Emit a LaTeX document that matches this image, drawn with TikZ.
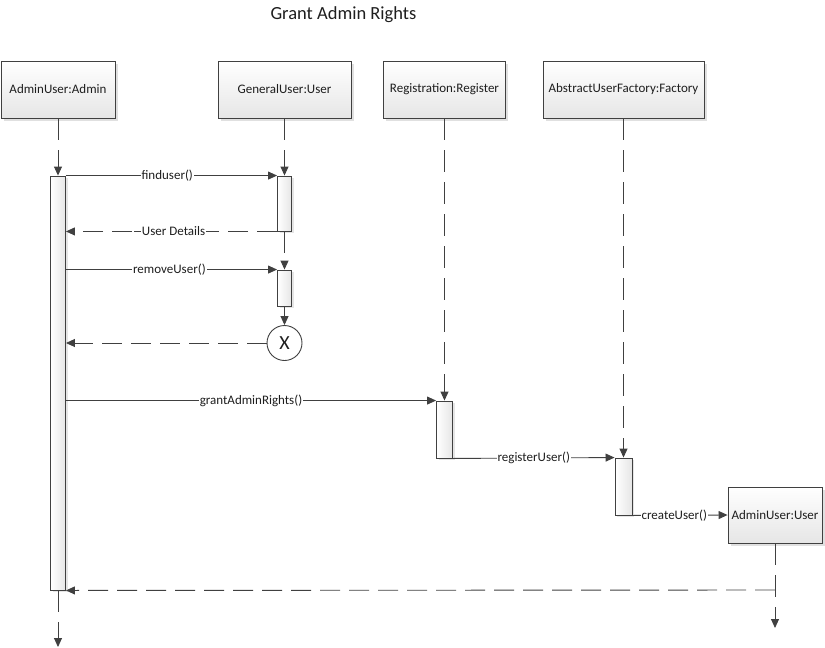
\documentclass[tikz,border=0pt]{standalone}
\usepackage{fontspec}
\setmainfont{Carlito}
\usetikzlibrary{arrows.meta,shadows}
\definecolor{ink}{HTML}{404040}
\definecolor{txt}{HTML}{1E1E1E}
\definecolor{boxbot}{HTML}{E6E6E6}
\begin{document}
\begin{tikzpicture}[x=1pt,y=-1pt,
  every node/.style={font=\fontsize{13}{15}\selectfont, text=txt},
  objbox/.style={draw=ink, line width=0.9pt, top color=white, bottom color=boxbot,
    minimum width=#1, minimum height=57pt, inner sep=0pt,
    drop shadow={shadow xshift=2.5pt, shadow yshift=-2.5pt, fill=black, opacity=0.12}},
  actbox/.style={draw=ink, line width=0.9pt, left color=white, right color=boxbot,
    minimum width=#1, inner sep=0pt,
    drop shadow={shadow xshift=2pt, shadow yshift=-2pt, fill=black, opacity=0.10}},
  tip/.style={-{Triangle[length=9pt,width=8pt]}},
  life/.style={draw=ink, line width=0.9pt, dash pattern=on 22pt off 10pt, tip},
  msg/.style={draw=ink, line width=0.9pt, tip},
  ret/.style={draw=ink, line width=0.9pt, dash pattern=on 20pt off 9pt, tip},
  lbl/.style={fill=white, inner sep=1pt}]
\useasboundingbox (0,0) rectangle (825,648);

% title
\node[font=\fontsize{18.5}{22}\selectfont] (title) at (343.5,15) {Grant Admin Rights};

% object heads
\node[objbox=114pt] (admin) at (58,89.5) {AdminUser:Admin};
\node[objbox=133pt] (gen) at (284.5,89.5) {GeneralUser:User};
\node[objbox=122pt] (reg) at (444.5,89.5) {Registration:Register};
\node[objbox=161pt] (fac) at (623.5,89.5) {AbstractUserFactory:Factory};
\node[objbox=94pt, minimum height=56pt] (nu) at (775,515) {AdminUser:User};

% activation bars
\node[actbox=15pt, minimum height=414pt] (actA) at (58,383) {};
\node[actbox=14pt, minimum height=55pt] (actG1) at (284.5,203.5) {};
\node[actbox=14pt, minimum height=36pt] (actG2) at (284.5,288) {};
\node[actbox=16pt, minimum height=57pt] (actR) at (444.5,429.5) {};
\node[actbox=17pt, minimum height=57pt] (actF) at (623.5,486.5) {};

% destruction mark
\node[circle, draw=ink, line width=0.9pt, fill=white, minimum size=35pt, inner sep=0pt,
  font=\fontsize{20}{22}\selectfont] (xend) at (284.5,343) {X};

% lifeline ends
\coordinate (aEnd) at (58,647);
\coordinate (nuRet) at (775,590);
\coordinate (nuEnd) at (775,628);

% lifelines
\draw[life] (admin.south) -- (actA.north);
\draw[life] (gen.south) -- (actG1.north);
\draw[life] (actG1.south) -- (actG2.north);
\draw[msg] (actG2.south) -- (xend.north);
\draw[life] (reg.south) -- (actR.north);
\draw[life] (fac.south) -- (actF.north);
\draw[life] (actA.south) -- (aEnd);
\draw[life] (nu.south) -- (nuEnd);

% messages
\draw[msg] (actA.north east) -- node[lbl, pos=0.48] (m1) {finduser()} (actG1.north west);
\draw[ret] (actG1.south west) -- node[lbl, pos=0.49] (m2) {User Details} (actA.east |- actG1.south);
\draw[draw=ink, line width=0.9pt] (m2.west) -- ++(-7,0) (m2.east) -- ++(8,0);
\draw[msg] (actA.east |- actG2.north) -- node[lbl, pos=0.49] (m3) {removeUser()} (actG2.north west);
\draw[ret] (xend.west) -- (actA.east |- xend.west);
\draw[msg] (actA.east |- actR.north) -- node[lbl, pos=0.5] (m4) {grantAdminRights()} (actR.north west);
\draw[msg] (actR.south east) -- node[lbl] (m5) {registerUser()} (actF.north west);
\draw[msg] (actF.south east) -- node[lbl, pos=0.44] (m6) {createUser()} (nu.west);
\draw[ret] (nuRet) -- (actA.south east);
\end{tikzpicture}
\end{document}
